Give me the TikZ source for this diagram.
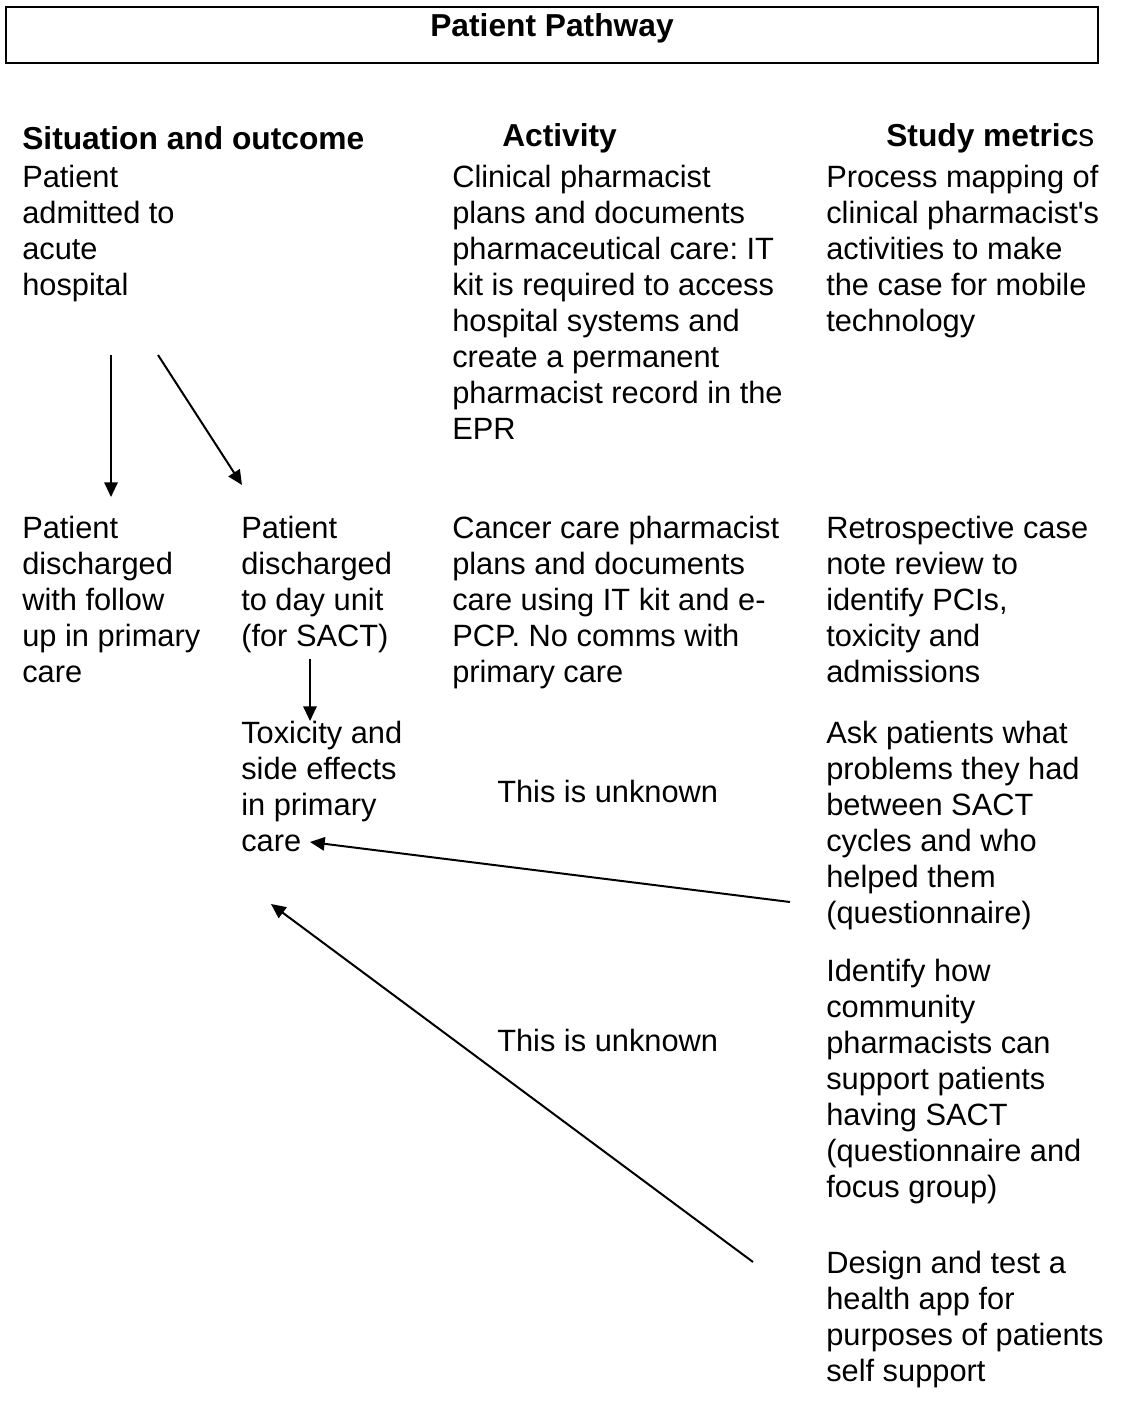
\documentclass[tikz,border=0pt]{standalone}
\usepackage{fontspec}
\setmainfont{Liberation Sans}[Ligatures=TeXOff]
\usetikzlibrary{arrows.meta}
\frenchspacing
\newcommand{\bodysize}{\fontsize{23.1pt}{27pt}\selectfont}
\newcommand{\headsize}{\fontsize{23.8pt}{28pt}\selectfont}
\tikzset{
  cell/.style={anchor=north west, inner sep=0pt, align=left, font=\bodysize},
  heading/.style={inner sep=0pt, font=\headsize\bfseries},
  flow/.style={line width=1.5pt, -{Triangle[length=11pt,width=10pt]}},
}
\begin{document}
\begin{tikzpicture}[x=0.75pt, y=-0.75pt]
\useasboundingbox (0,0) rectangle (1121,1424);

% title frame
\node[draw, line width=1.6pt, minimum width=1092*0.75pt, minimum height=56*0.75pt, inner sep=0pt] (frame) at (552,35) {};
\node[heading] (title) at (552,28) {Patient Pathway};

% column headings
\node[heading, anchor=west] (hsit) at (22,138) {Situation and outcome};
\node[heading, anchor=west] (hact) at (502,138) {Activity};
\node[heading, anchor=west] (hmet) at (886,138) {Study metric{\mdseries s}};

% row 1
\node[cell] (admit) at (22,162) {\strut Patient\\admitted to\\acute\\hospital};
\node[cell] (act1) at (452,162) {\strut Clinical pharmacist\\plans and documents\\pharmaceutical care: IT\\kit is required to access\\hospital systems and\\create a permanent\\pharmacist record in the\\EPR};
\node[cell] (met1) at (826,162) {\strut Process mapping of\\clinical pharmacist's\\activities to make\\the case for mobile\\technology};

% row 2
\node[cell] (dcprim) at (22,513) {\strut Patient\\discharged\\with follow\\up in primary\\care};
\node[cell] (dcday) at (241,513) {\strut Patient\\discharged\\to day unit\\(for SACT)};
\node[cell] (act2) at (452,513) {\strut Cancer care pharmacist\\plans and documents\\care using IT kit and e-\\PCP. No comms with\\primary care};
\node[cell] (met2) at (826,513) {\strut Retrospective case\\note review to\\identify PCIs,\\toxicity and\\admissions};

% row 3
\node[cell] (tox) at (241,718) {\strut Toxicity and\\side effects\\in primary\\care};
\node[cell, anchor=base west] (act3) at (497,802) {This is unknown};
\node[cell] (met3) at (826,718) {\strut Ask patients what\\problems they had\\between SACT\\cycles and who\\helped them\\(questionnaire)};

% row 4
\node[cell, anchor=base west] (act4) at (497,1051) {This is unknown};
\node[cell] (met4) at (826,956) {\strut Identify how\\community\\pharmacists can\\support patients\\having SACT\\(questionnaire and\\focus group)};

% row 5
\node[cell] (met5) at (826,1248) {\strut Design and test a\\health app for\\purposes of patients\\self support};

% connector end points
\coordinate (a1s) at (111,355);  \coordinate (a1e) at (111,497);
\coordinate (a2s) at (158,355);  \coordinate (a2e) at (242,485);
\coordinate (a3s) at (310,659);  \coordinate (a3e) at (310,721);
\coordinate (a4s) at (790,902);  \coordinate (a4e) at (310,842);
\coordinate (a5s) at (753,1262); \coordinate (a5e) at (271,904);

\draw[flow] (a1s) -- (a1e);
\draw[flow] (a2s) -- (a2e);
\draw[flow] (a3s) -- (a3e);
\draw[flow] (a4s) -- (a4e);
\draw[flow] (a5s) -- (a5e);
\end{tikzpicture}
\end{document}
